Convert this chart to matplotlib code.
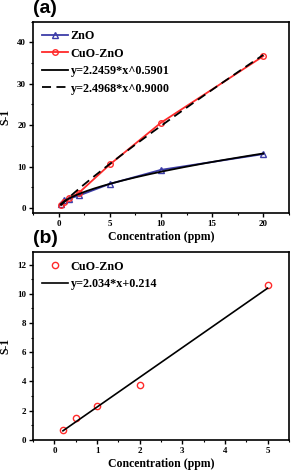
import numpy as np
import matplotlib
matplotlib.use('Agg')
import matplotlib.pyplot as plt
from matplotlib.ticker import MultipleLocator

# panel (a) data
conc_a = [0.2, 0.5, 1, 2, 5, 10, 20]
zno = [1.0, 1.8, 2.2, 3.0, 5.8, 9.2, 13.0]
cuo_zno = [0.7, 1.5, 2.3, 3.7, 10.5, 20.6, 36.7]
fit_zno = (2.2459, 0.5901)
fit_cuo = (2.4968, 0.9000)

# panel (b) data
conc_b = [0.2, 0.5, 1, 2, 5]
cuo_b = [0.7, 1.5, 2.3, 3.75, 10.6]
lin_b = (2.034, 0.214)

blue = '#3d3da8'
red = '#ff2a2a'
serif = 'Liberation Serif'

fig = plt.figure(figsize=(2.93, 4.74), dpi=100)
ax1 = fig.add_axes([0.113, 0.551, 0.873, 0.403])
ax2 = fig.add_axes([0.113, 0.072, 0.873, 0.396])

xs = np.linspace(conc_a[0], conc_a[-1], 200)
ax1.plot(conc_a, zno, color=blue, marker='^', mfc='none', ms=4, lw=1.3, label='ZnO')
ax1.plot(conc_a, cuo_zno, color=red, marker='o', mfc='none', ms=4, lw=1.3, label='CuO-ZnO')
ax1.plot(xs, fit_zno[0] * xs ** fit_zno[1], color='black', lw=1.3,
         label='y=2.2459*x^0.5901')
ax1.plot(xs, fit_cuo[0] * xs ** fit_cuo[1], color='black', lw=1.3, ls=(0, (5, 3)),
         label='y=2.4968*x^0.9000')
ax1.set_xlim(-2.5, 22.5)
ax1.set_ylim(-1.2, 45)
ax1.xaxis.set_major_locator(MultipleLocator(5))
ax1.xaxis.set_minor_locator(MultipleLocator(2.5))
ax1.yaxis.set_major_locator(MultipleLocator(10))
ax1.yaxis.set_minor_locator(MultipleLocator(5))

xb = np.array([conc_b[0], conc_b[-1]])
ax2.plot(conc_b, cuo_b, ls='none', color=red, marker='o', mfc='none', ms=4.5,
         mew=1.0, label='CuO-ZnO')
ax2.plot(xb, lin_b[0] * xb + lin_b[1], color='black', lw=1.2, label='y=2.034*x+0.214')
ax2.set_xlim(-0.5, 5.5)
ax2.set_ylim(0, 12.85)
ax2.xaxis.set_major_locator(MultipleLocator(1))
ax2.xaxis.set_minor_locator(MultipleLocator(0.5))
ax2.yaxis.set_major_locator(MultipleLocator(2))
ax2.yaxis.set_minor_locator(MultipleLocator(1))

for ax in (ax1, ax2):
    for sp in ax.spines.values():
        sp.set_linewidth(1.2)
    ax.tick_params(which='major', direction='out', length=3, width=1, labelsize=6.5, pad=2)
    ax.tick_params(which='minor', direction='out', length=1.5, width=0.8)
    for lab in ax.get_xticklabels() + ax.get_yticklabels():
        lab.set_fontfamily(serif)
        lab.set_fontweight('bold')
    ax.set_xlabel('Concentration (ppm)', fontfamily=serif, fontweight='bold',
                  fontsize=8.5, labelpad=2)
    ax.set_ylabel('S-1', fontfamily=serif, fontweight='bold', fontsize=8.5, labelpad=4)
    leg = ax.legend(loc='upper left', frameon=False, handlelength=2.2, handletextpad=0.2,
                    labelspacing=0.45, borderaxespad=0.3,
                    prop={'family': serif, 'weight': 'bold', 'size': 8.7})

fig.text(0.113, 0.999, '(a)', fontfamily='Liberation Sans', fontweight='bold',
         fontsize=14, va='top', ha='left')
fig.text(0.113, 0.515, '(b)', fontfamily='Liberation Sans', fontweight='bold',
         fontsize=14, va='top', ha='left')

fig.savefig('out.png', dpi=100)
